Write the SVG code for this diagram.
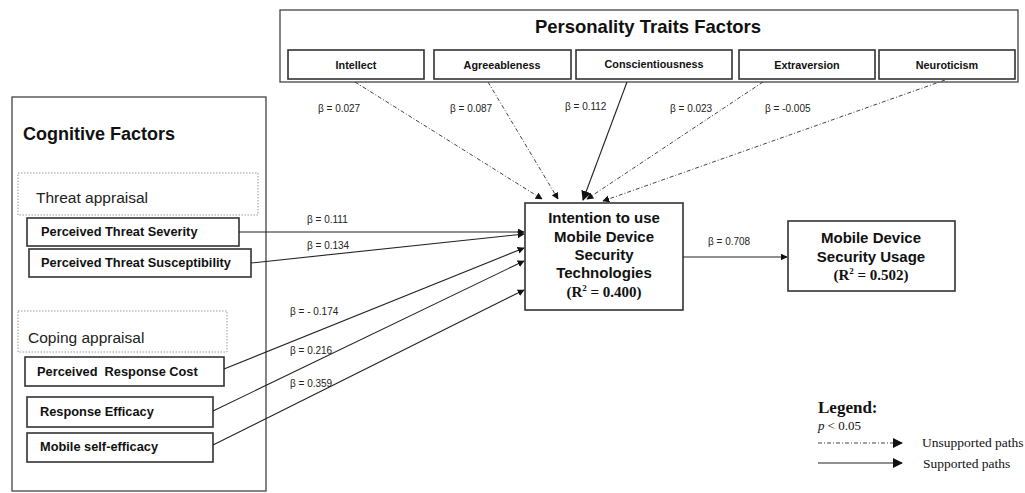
<svg xmlns="http://www.w3.org/2000/svg" width="1025" height="493" viewBox="0 0 1025 493">
<style>
.box{fill:#fff;stroke:#333;stroke-width:1.6}
.outer{fill:none;stroke:#444;stroke-width:1.3}
.dot{fill:none;stroke:#999;stroke-width:1;stroke-dasharray:1.5 1.5}
.lbl{font-family:"Liberation Sans",Arial,sans-serif;font-weight:bold;fill:#111}
.beta{font-family:"Liberation Sans",Arial,sans-serif;font-size:10px;fill:#222}
.sol{fill:none;stroke:#222;stroke-width:1.1}
.dd{fill:none;stroke:#444;stroke-width:1;stroke-dasharray:4 2 1 2}
.tms{font-family:"Liberation Serif","Times New Roman",serif;fill:#111}
</style>
<defs>
<marker id="ah" viewBox="0 0 10 10" refX="9" refY="5" markerWidth="7" markerHeight="7" markerUnits="userSpaceOnUse" orient="auto">
<path d="M0,0 L10,5 L0,10 z" fill="#111"/>
</marker>
<marker id="ahb" viewBox="0 0 10 10" refX="9" refY="5" markerWidth="10" markerHeight="10" markerUnits="userSpaceOnUse" orient="auto">
<path d="M0,0 L10,5 L0,10 z" fill="#111"/>
</marker>
</defs>

<g id="personality">
<rect class="outer" x="280" y="10" width="738" height="72"/>
<text class="lbl" x="648" y="33" font-size="18.5" text-anchor="middle">Personality Traits Factors</text>
</g>
<g id="intellect"><rect class="box" x="288" y="50" width="136" height="29"/><text class="lbl" x="356" y="69" font-size="10.8" text-anchor="middle">Intellect</text></g>
<g id="agreeableness"><rect class="box" x="434" y="50" width="137" height="29"/><text class="lbl" x="502" y="69" font-size="10.8" text-anchor="middle">Agreeableness</text></g>
<g id="conscientiousness"><rect class="box" x="576" y="50" width="156" height="29"/><text class="lbl" x="654" y="68" font-size="10.8" text-anchor="middle">Conscientiousness</text></g>
<g id="extraversion"><rect class="box" x="739" y="50" width="136" height="29"/><text class="lbl" x="807" y="69" font-size="10.8" text-anchor="middle">Extraversion</text></g>
<g id="neuroticism"><rect class="box" x="879" y="50" width="136" height="29"/><text class="lbl" x="947" y="69" font-size="10.8" text-anchor="middle">Neuroticism</text></g>

<g id="cognitive">
<rect class="outer" x="12" y="97" width="254" height="394"/>
<text class="lbl" x="23" y="140" font-size="18">Cognitive Factors</text>
</g>
<g id="threat-appraisal">
<rect class="dot" x="18" y="173" width="240" height="42"/>
<text x="36" y="203" font-family="Liberation Sans,Arial,sans-serif" font-size="15.5" fill="#222">Threat appraisal</text>
</g>
<g id="severity"><rect class="box" x="27" y="218" width="212" height="28"/><text class="lbl" x="41" y="236" font-size="12.8">Perceived Threat Severity</text></g>
<g id="susceptibility"><rect class="box" x="29" y="249" width="222" height="28"/><text class="lbl" x="41" y="267" font-size="12.8">Perceived Threat Susceptibility</text></g>
<g id="coping-appraisal">
<rect class="dot" x="18" y="311" width="209" height="41"/>
<text x="28" y="343" font-family="Liberation Sans,Arial,sans-serif" font-size="15.5" fill="#222">Coping appraisal</text>
</g>
<g id="response-cost"><rect class="box" x="25" y="357" width="199" height="29"/><text class="lbl" x="37" y="376" font-size="12.8" xml:space="preserve">Perceived  Response Cost</text></g>
<g id="response-efficacy"><rect class="box" x="27" y="397" width="186" height="30"/><text class="lbl" x="40" y="416" font-size="12.8">Response Efficacy</text></g>
<g id="self-efficacy"><rect class="box" x="27" y="433" width="186" height="29"/><text class="lbl" x="40" y="451" font-size="12.8">Mobile self-efficacy</text></g>

<g id="intention">
<rect class="box" x="525" y="203" width="158" height="107"/>
<text class="lbl" font-size="15" text-anchor="middle"><tspan x="604" y="223">Intention to use</tspan><tspan x="604" y="242">Mobile Device</tspan><tspan x="604" y="260">Security</tspan><tspan x="604" y="278">Technologies</tspan></text>
<text class="tms" x="604" y="297" font-size="15" font-weight="bold" text-anchor="middle">(R<tspan font-size="9" dy="-6">2</tspan><tspan dy="6"> = 0.400)</tspan></text>
</g>
<g id="usage">
<rect class="box" x="788" y="221" width="167" height="70"/>
<text class="lbl" font-size="15" text-anchor="middle"><tspan x="871" y="243">Mobile Device</tspan><tspan x="871" y="262">Security Usage</tspan></text>
<text class="tms" x="871" y="280" font-size="15" font-weight="bold" text-anchor="middle">(R<tspan font-size="9" dy="-6">2</tspan><tspan dy="6"> = 0.502)</tspan></text>
</g>

<g id="connectors">
<line class="dd" x1="355" y1="82" x2="542" y2="199" marker-end="url(#ah)"/>
<line class="dd" x1="488" y1="82" x2="558" y2="199" marker-end="url(#ah)"/>
<line class="sol" x1="627" y1="82" x2="583" y2="200" marker-end="url(#ahb)"/>
<line class="dd" x1="763" y1="82" x2="587" y2="199" marker-end="url(#ah)"/>
<line class="dd" x1="945" y1="80" x2="603" y2="201" marker-end="url(#ah)"/>
<line class="sol" x1="239" y1="232" x2="524" y2="232" marker-end="url(#ah)"/>
<line class="sol" x1="251" y1="263" x2="524" y2="234" marker-end="url(#ah)"/>
<line class="sol" x1="224" y1="369" x2="524" y2="248" marker-end="url(#ah)"/>
<line class="sol" x1="213" y1="411" x2="524" y2="261" marker-end="url(#ah)"/>
<line class="sol" x1="213" y1="445" x2="524" y2="290" marker-end="url(#ah)"/>
<line class="sol" x1="683" y1="257" x2="787" y2="257" marker-end="url(#ah)"/>
</g>

<g id="labels">
<text class="beta" x="318" y="112">β = 0.027</text>
<text class="beta" x="450" y="112">β = 0.087</text>
<text class="beta" x="565" y="110">β = 0.112</text>
<text class="beta" x="670" y="112">β = 0.023</text>
<text class="beta" x="765" y="112">β = -0.005</text>
<text class="beta" x="307" y="223">β = 0.111</text>
<text class="beta" x="307" y="249">β = 0.134</text>
<text class="beta" x="290" y="315">β = - 0.174</text>
<text class="beta" x="290" y="354">β = 0.216</text>
<text class="beta" x="290" y="387">β = 0.359</text>
<text class="beta" x="708" y="245">β = 0.708</text>
</g>

<g id="legend">
<text class="tms" x="818" y="413" font-size="17" font-weight="bold">Legend:</text>
<text class="tms" x="818" y="430" font-size="13"><tspan font-style="italic">p</tspan> &lt; 0.05</text>
<line class="dd" x1="818" y1="443" x2="902" y2="443" marker-end="url(#ahb)"/>
<text class="tms" x="922" y="447" font-size="13.5">Unsupported paths</text>
<line class="sol" x1="818" y1="463" x2="902" y2="463" marker-end="url(#ahb)"/>
<text class="tms" x="923" y="468" font-size="13.5">Supported paths</text>
</g>
</svg>
